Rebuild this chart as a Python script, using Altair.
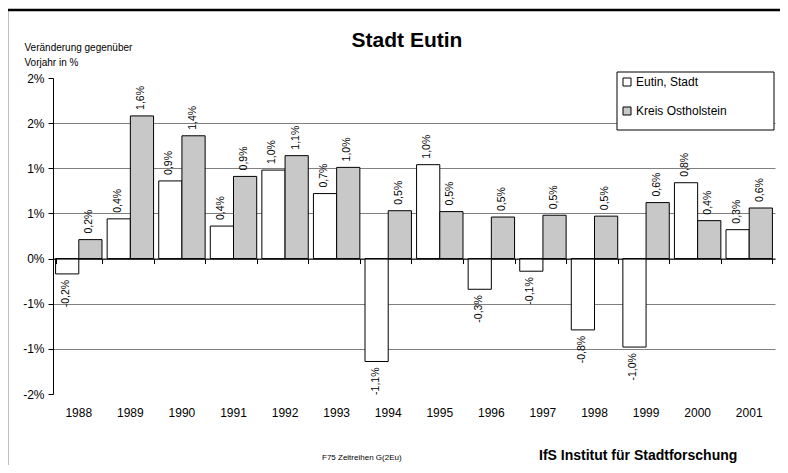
import altair as alt
import pandas as pd

# ---- data -------------------------------------------------------------
years = [1988, 1989, 1990, 1991, 1992, 1993, 1994, 1995, 1996, 1997, 1998, 1999, 2000, 2001]
eutin = [-0.17, 0.44, 0.86, 0.36, 0.98, 0.72, -1.14, 1.04, -0.34, -0.14, -0.79, -0.98, 0.84, 0.32]
kreis = [0.21, 1.58, 1.36, 0.91, 1.14, 1.01, 0.53, 0.52, 0.46, 0.48, 0.47, 0.62, 0.42, 0.56]
series_names = ["Eutin, Stadt", "Kreis Ostholstein"]
series_fill = ["#ffffff", "#c8c8c8"]
y_tick_values = [-1.5, -1.0, -0.5, 0.0, 0.5, 1.0, 1.5, 2.0]
y_tick_labels = ["-2%", "-1%", "-1%", "0%", "1%", "1%", "2%", "2%"]
y_caption = ["Veränderung gegenüber", "Vorjahr in %"]
title_text = "Stadt Eutin"
footer_left = "F75 Zeitreihen  G(2Eu)"
footer_right = "IfS Institut für Stadtforschung"

rows = []
for i, yr in enumerate(years):
    rows.append({"year": str(yr), "series": series_names[0], "value": eutin[i]})
    rows.append({"year": str(yr), "series": series_names[1], "value": kreis[i]})
df = pd.DataFrame(rows)
one = pd.DataFrame({"a": [0]})

# ---- layout -------------------------------------------------------------
W, H = 722, 316
PAD = {"left": 45, "top": 70, "right": 5, "bottom": 71}
Y_MIN, Y_MAX = -1.5, 2.0
zero_offset = -H * (0 - Y_MIN) / (Y_MAX - Y_MIN)
FONT = "Liberation Sans"

x_scale = alt.Scale(paddingInner=0.1, paddingOuter=0.05)
xo = alt.XOffset("series:N", scale=alt.Scale(domain=series_names, paddingInner=0, paddingOuter=0))
y_scale = alt.Scale(domain=[Y_MIN, Y_MAX], nice=False)

# tick label expression built from the tick lists
label_expr = "''"
for v, lab in zip(y_tick_values, y_tick_labels):
    label_expr = f"(abs(datum.value - ({v})) < 0.001 ? '{lab}' : {label_expr})"

y_axis = alt.Axis(
    values=y_tick_values, labelExpr=label_expr,
    title=y_caption, titleAngle=0, titleX=-29, titleY=-27.5, titleAlign="left",
    titleBaseline="alphabetic", titleFontSize=10, titleFontWeight="normal",
    titleLineHeight=15, titleColor="black",
    labelFontSize=12, labelPadding=4, labelColor="black",
    tickSize=5, tickColor="black", domainColor="black", orient="left",
    grid=True,
    gridColor=alt.condition("datum.value > 1.9 || datum.value < -1.4",
                            alt.value("transparent"), alt.value("#808080")),
)

bars = alt.Chart(df).mark_bar(stroke="black", strokeWidth=1, opacity=1).encode(
    x=alt.X("year:O", scale=x_scale,
            axis=alt.Axis(title=None, domain=False, ticks=False, tickSize=0,
                          labelPadding=13, labelFontSize=12, labelAngle=0,
                          labelColor="black", grid=False, orient="bottom")),
    xOffset=xo,
    y=alt.Y("value:Q", scale=y_scale, axis=y_axis),
    y2=alt.datum(0),
    fill=alt.Fill("series:N", scale=alt.Scale(domain=series_names, range=series_fill),
                  legend=alt.Legend(title=None, orient="none", legendX=568, legendY=-2,
                                    symbolType="square", symbolSize=64,
                                    symbolStrokeColor="black", symbolStrokeWidth=1,
                                    labelFontSize=12, labelOffset=3, labelColor="black",
                                    rowPadding=17, padding=0, zindex=1)),
)

labels_base = alt.Chart(df).transform_calculate(
    label="(datum.value < 0 ? '-' : '') + replace(format(abs(datum.value), '.1f'), '.', ',') + '%'"
)
text_pos = labels_base.transform_filter("datum.value >= 0").mark_text(
    angle=270, align="left", baseline="middle", dx=6, dy=-1, fontSize=10.5, color="black"
).encode(
    x=alt.X("year:O", scale=x_scale,
            axis=alt.Axis(title=None, labels=False, ticks=True, tickBand="extent",
                          tickSize=5, tickColor="black", domain=True, orient="bottom",
                          domainColor="black", offset=zero_offset, grid=False, zindex=1)),
    xOffset=xo,
    y=alt.Y("value:Q", scale=y_scale, axis=y_axis),
    text="label:N",
)
text_neg = labels_base.transform_filter("datum.value < 0").mark_text(
    angle=270, align="right", baseline="middle", dx=-6, dy=-1, fontSize=10.5, color="black"
).encode(
    x=alt.X("year:O", scale=x_scale, axis=None),
    xOffset=xo,
    y=alt.Y("value:Q", scale=y_scale, axis=y_axis),
    text="label:N",
)

# outer frame (left and top edges are the only ones inside the picture)
frame_left = alt.Chart(one).mark_rule(stroke="black", strokeWidth=2.5).encode(
    x=alt.value(-46), y=alt.value(-69), y2=alt.value(H + PAD["bottom"])
)
frame_top = alt.Chart(one).mark_rule(stroke="black", strokeWidth=2.5).encode(
    x=alt.value(-47), x2=alt.value(W + PAD["right"]), y=alt.value(-68)
)
legend_box = alt.Chart(one).mark_rect(fill="white", stroke="black", strokeWidth=1).encode(
    x=alt.value(564), x2=alt.value(721), y=alt.value(-6), y2=alt.value(52)
)
title = alt.Chart(one).mark_text(
    text=title_text, fontSize=21, fontWeight="bold", align="center",
    baseline="alphabetic", color="black"
).encode(x=alt.value(354), y=alt.value(-31))
foot1 = alt.Chart(one).mark_text(
    text=footer_left, fontSize=8, align="left", baseline="alphabetic", color="black"
).encode(x=alt.value(269), y=alt.value(382))
foot2 = alt.Chart(one).mark_text(
    text=footer_right, fontSize=14, fontWeight="bold", align="left",
    baseline="alphabetic", color="black"
).encode(x=alt.value(486), y=alt.value(382))

chart = alt.layer(
    frame_left, frame_top, bars, text_pos, text_neg, legend_box, title, foot1, foot2
).resolve_axis(x="independent").properties(
    width=W, height=H,
    padding=PAD,
    autosize=alt.AutoSizeParams(type="none"),
).configure(
    font=FONT, background="white"
).configure_view(stroke=None)

chart.save("out.html", embed_options={"renderer": "svg", "actions": False})
